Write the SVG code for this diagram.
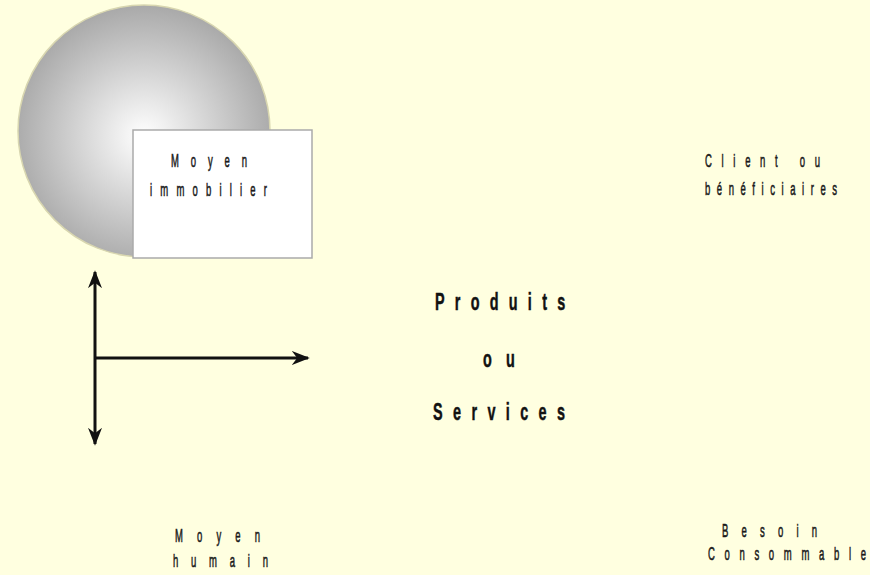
<svg xmlns="http://www.w3.org/2000/svg" width="870" height="575" viewBox="0 0 870 575">
<defs>
<radialGradient id="g" cx="0.5" cy="0.52" r="0.55">
<stop offset="0" stop-color="#ffffff"/>
<stop offset="1" stop-color="#a4a4a4"/>
</radialGradient>
<marker id="ah" viewBox="0 0 10 10" refX="9" refY="5" markerWidth="18" markerHeight="14" markerUnits="userSpaceOnUse" orient="auto-start-reverse" preserveAspectRatio="none">
<path d="M0,0 L10,5 L0,10 L3,5 Z" fill="#111"/>
</marker>
<style>
.t{font-family:"Liberation Sans",Arial,sans-serif;font-size:19px;fill:#1a1a1a;stroke:#1a1a1a;stroke-width:0.6}
.b{font-family:"Liberation Sans",Arial,sans-serif;font-size:24px;font-weight:bold;fill:#111;stroke:#111;stroke-width:0.5}
.c{stroke:#111;stroke-width:3;fill:none}
</style>
</defs>
<rect width="870" height="575" fill="#ffffe0"/>
<g id="immobilier">
<circle cx="144" cy="131" r="126" fill="url(#g)" stroke="#d8d6b0" stroke-width="1.5"/>
<rect x="133" y="130" width="179" height="128" fill="#ffffff" stroke="#aaaaaa" stroke-width="1.5"/>
<text class="t" transform="translate(171,167) scale(0.5,1)" textLength="152" lengthAdjust="spacing">Moyen</text>
<text class="t" transform="translate(150,196) scale(0.5,1)" textLength="234" lengthAdjust="spacing">immobilier</text>
</g>
<g id="connectors">
<line class="c" x1="95" y1="272" x2="95" y2="444" marker-start="url(#ah)" marker-end="url(#ah)"/>
<line class="c" x1="95" y1="358" x2="308" y2="358" marker-end="url(#ah)"/>
</g>
<g id="produits">
<text class="b" transform="translate(435,310) scale(0.6,1)" textLength="217" lengthAdjust="spacing">Produits</text>
<text class="b" transform="translate(483,367) scale(0.6,1)" textLength="53" lengthAdjust="spacing">ou</text>
<text class="b" transform="translate(433,420) scale(0.6,1)" textLength="220" lengthAdjust="spacing">Services</text>
</g>
<g id="clients">
<text class="t" transform="translate(705,167) scale(0.5,1)" textLength="230" lengthAdjust="spacing">Client ou</text>
<text class="t" transform="translate(705,195) scale(0.5,1)" textLength="264" lengthAdjust="spacing">bénéficiaires</text>
</g>
<g id="humain">
<text class="t" transform="translate(175,542) scale(0.5,1)" textLength="170" lengthAdjust="spacing">Moyen</text>
<text class="t" transform="translate(173,567) scale(0.5,1)" textLength="190" lengthAdjust="spacing">humain</text>
</g>
<g id="besoin">
<text class="t" transform="translate(722,537) scale(0.5,1)" textLength="190" lengthAdjust="spacing">Besoin</text>
<text class="t" transform="translate(708,560) scale(0.5,1)" textLength="316" lengthAdjust="spacing">Consommable</text>
</g>
</svg>
